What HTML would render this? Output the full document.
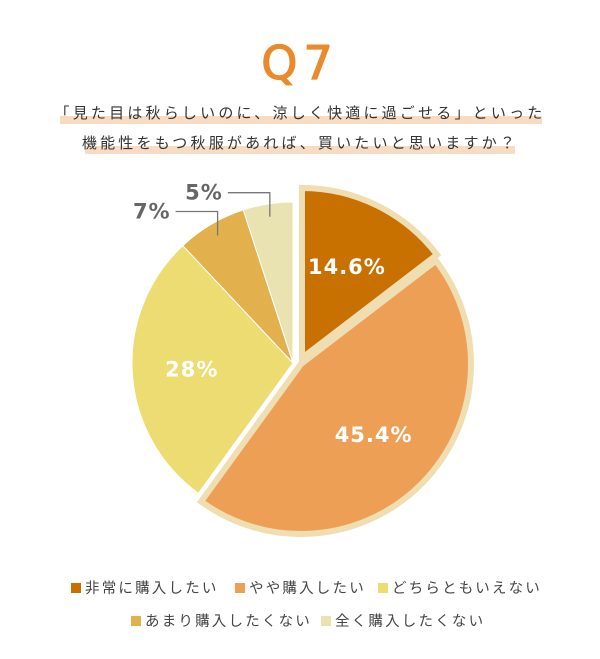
<!DOCTYPE html>
<html><head><meta charset="utf-8"><style>
body{margin:0;background:#fff;font-family:"Liberation Sans","Noto Sans CJK JP",sans-serif;}
#wrap{position:relative;width:600px;height:659px;overflow:hidden;background:#fff}
.t{position:absolute;white-space:nowrap}
.band{position:absolute;background:#f7dcc3}
.sub{font-size:15px;letter-spacing:3.2px;color:#333}
.lg{position:absolute;font-size:14.5px;letter-spacing:2.2px;color:#444;white-space:nowrap}
.sq{display:inline-block;width:10px;height:10px;margin-right:4px;vertical-align:0px}
</style></head><body>
<div id="wrap">
<div class="t" style="left:0;width:600px;text-align:center;top:38px;font-size:46px;color:#e98a2c;letter-spacing:6px;font-family:'DejaVu Sans',sans-serif;line-height:50px;-webkit-text-stroke:1.2px #e98a2c">Q7</div>
<div class="band" style="left:60px;top:116px;width:482px;height:8px"></div>
<div class="band" style="left:85px;top:146px;width:430px;height:8px"></div>
<div class="t sub" style="left:0;width:600px;text-align:center;top:102px">「見た目は秋らしいのに、涼しく快適に過ごせる」といった</div>
<div class="t sub" style="left:0;width:600px;text-align:center;top:132px">機能性をもつ秋服があれば、買いたいと思いますか？</div>
<svg id="pie" width="600" height="659" style="position:absolute;left:0;top:0"></svg>
<div class="lg" style="left:71px;top:577px"><span class="sq" style="background:#c87000"></span>非常に購入したい</div>
<div class="lg" style="left:235px;top:577px"><span class="sq" style="background:#eda055"></span>やや購入したい</div>
<div class="lg" style="left:378px;top:577px"><span class="sq" style="background:#ecdc72"></span>どちらともいえない</div>
<div class="lg" style="left:131px;top:610px"><span class="sq" style="background:#e2b04d"></span>あまり購入したくない</div>
<div class="lg" style="left:321px;top:610px"><span class="sq" style="background:#e8e3b0"></span>全く購入したくない</div>
</div>
<script>
const categories=["非常に購入したい","やや購入したい","どちらともいえない","あまり購入したくない","全く購入したくない"];
const values=[14.6,45.4,28,7,5];
const valueLabels=["14.6%","45.4%","28%","7%","5%"];
const colors=["#c87000","#eda055","#ecdc72","#e2b04d","#e8e3b0"];
const exploded=[true,true,false,false,false];
const explodeDx=[9,8,0,0,0];
const explodeDy=[-5,1,0,0,0];
const svg=document.getElementById('pie');
const NS="http://www.w3.org/2000/svg";
const cx=293,cy=363,r=161;
const total=values.reduce((a,b)=>a+b,0);
function pt(x,y,rad,a){return [x+rad*Math.sin(a),y-rad*Math.cos(a)];}
let acc=0;
const labelsG=[];
values.forEach((v,i)=>{
  const a0=acc/total*2*Math.PI,a1=(acc+v)/total*2*Math.PI;acc+=v;
  const mid=(a0+a1)/2;
  let x=cx+explodeDx[i],y=cy+explodeDy[i],rr=exploded[i]?r+9:r;
  const p0=pt(x,y,rr,a0),p1=pt(x,y,rr,a1);
  const path=document.createElementNS(NS,'path');
  path.setAttribute('d',`M${x},${y}L${p0[0]},${p0[1]}A${rr},${rr} 0 ${a1-a0>Math.PI?1:0} 1 ${p1[0]},${p1[1]}Z`);
  path.setAttribute('fill',colors[i]);
  if(exploded[i]){path.setAttribute('stroke','#f0deb3');path.setAttribute('stroke-width','6');path.setAttribute('stroke-linejoin','miter');}
  else{path.setAttribute('stroke','#fff');path.setAttribute('stroke-width','1');}
  
  
  svg.appendChild(path);
  labelsG.push({i,x,y,mid});
});
labelsG.forEach(({i,x,y,mid})=>{
  const t=document.createElementNS(NS,'text');
  let lx,ly,fill='#fff';
  if(values[i]>=10){const p=pt(x,y,r*0.63,mid);lx=p[0];ly=p[1];t.setAttribute('text-anchor','middle');}
  else{
    const p=pt(cx,cy,r*0.92,mid);
    const ex=p[0],ey=p[1];
    const hy=ey-24,hx=ex-42;
    const line=document.createElementNS(NS,'polyline');
    line.setAttribute('points',`${hx},${hy} ${ex},${hy} ${ex},${ey}`);
    line.setAttribute('fill','none');line.setAttribute('stroke','#777');line.setAttribute('stroke-width','1.3');
    
    
    svg.appendChild(line);
    lx=hx-5;ly=hy;fill='#666';t.setAttribute('text-anchor','end');
  }
  t.setAttribute('x',lx);t.setAttribute('y',ly+7);
  t.setAttribute('fill',fill);t.setAttribute('font-size','21');t.setAttribute('font-weight','bold');
  t.setAttribute('font-family','"DejaVu Sans",sans-serif');t.setAttribute('letter-spacing','1');
  t.textContent=valueLabels[i];
  
  
  svg.appendChild(t);
});
</script>
</body></html>
